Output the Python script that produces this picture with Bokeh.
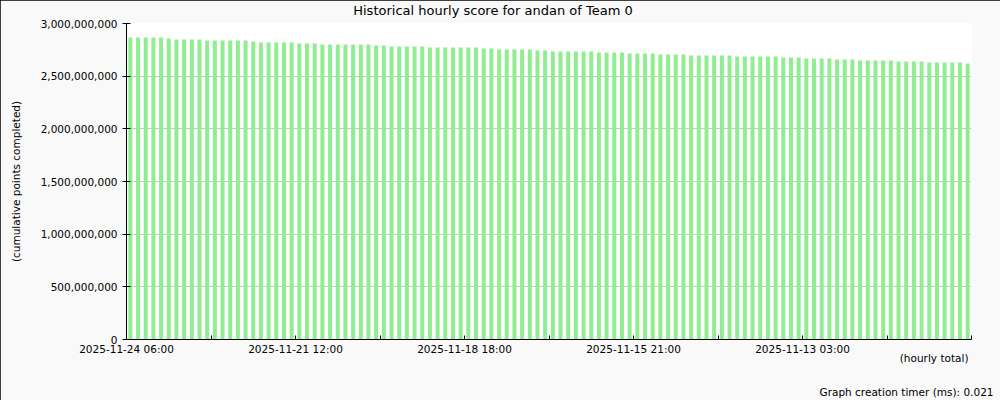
import math
from bokeh.plotting import figure
from bokeh.models import ColumnDataSource, FixedTicker, NumeralTickFormatter, Label, Range1d
from bokeh.embed import file_html
from bokeh.resources import INLINE

# ---- data ----
title_text = "Historical hourly score for andan of Team 0"
y_label_text = "(cumulative points completed)"
x_label_text = "(hourly total)"
footer_text = "Graph creation timer (ms): 0.021"

tick_labels = ["2025-11-24 06:00", "2025-11-21 12:00", "2025-11-18 18:00",
               "2025-11-15 21:00", "2025-11-13 03:00"]

scores = [
    2867000000, 2867000000, 2867000000, 2867000000, 2867000000,
    2858000000,
    2848000000, 2848000000, 2848000000, 2848000000,
    2839000000, 2839000000, 2839000000, 2839000000, 2839000000, 2839000000,
    2829000000,
    2820000000, 2820000000, 2820000000, 2820000000, 2820000000,
    2810000000, 2810000000, 2810000000,
    2801000000, 2801000000, 2801000000, 2801000000, 2801000000, 2801000000, 2801000000,
    2791000000, 2791000000,
    2782000000, 2782000000, 2782000000, 2782000000, 2782000000,
    2772000000, 2772000000, 2772000000, 2772000000, 2772000000, 2772000000, 2772000000,
    2763000000, 2763000000,
    2753000000, 2753000000, 2753000000, 2753000000, 2753000000,
    2744000000, 2744000000,
    2734000000, 2734000000, 2734000000, 2734000000, 2734000000, 2734000000,
    2725000000, 2725000000, 2725000000, 2725000000,
    2715000000, 2715000000, 2715000000, 2715000000,
    2706000000, 2706000000, 2706000000, 2706000000,
    2696000000, 2696000000, 2696000000, 2696000000, 2696000000, 2696000000,
    2687000000, 2687000000, 2687000000, 2687000000, 2687000000, 2687000000,
    2677000000, 2677000000, 2677000000,
    2668000000, 2668000000, 2668000000, 2668000000,
    2658000000, 2658000000, 2658000000,
    2649000000, 2649000000, 2649000000, 2649000000, 2649000000,
    2639000000, 2639000000, 2639000000, 2639000000,
    2630000000, 2630000000, 2630000000, 2630000000, 2630000000,
    2620000000,
]

y_max = 3000000000
y_step = 500000000

# ---- derived ----
n = len(scores)
xs = [i + 0.5 for i in range(n)]
src = ColumnDataSource(dict(x=xs, top=scores))

label_every = 22
minor_every = 11
tick_pos = list(range(0, n + 1, minor_every))
overrides = {}
for t in tick_pos:
    if t % label_every == 0 and t // label_every < len(tick_labels):
        overrides[t] = tick_labels[t // label_every]
    else:
        overrides[t] = ""

FONT = "DejaVu Sans"

p = figure(width=1000, height=400, title=None,
           x_range=Range1d(0, n), y_range=Range1d(0, y_max),
           output_backend="svg", toolbar_location=None,
           min_border_left=126, min_border_right=29,
           min_border_top=23, min_border_bottom=61,
           background_fill_color="white", border_fill_color="#f9f9f9",
           outline_line_color=None)
p.styles = {"outline": "1px solid black", "outline-offset": "-1px"}

p.vbar(x="x", top="top", bottom=0, width=0.52, source=src,
       fill_color="#90ee90", line_color=None)

# x axis
xa = p.xaxis[0]
xa.ticker = FixedTicker(ticks=tick_pos)
xa.major_label_overrides = overrides
xa.major_tick_in = 4
xa.major_tick_out = 0
xa.minor_tick_line_color = None
xa.major_label_standoff = 3
xa.axis_line_color = "black"
xa.major_tick_line_color = "black"
xa.major_label_text_font = FONT
xa.major_label_text_font_size = "10.5px"
xa.major_label_text_color = "black"

# y axis
ya = p.yaxis[0]
ya.ticker = FixedTicker(ticks=list(range(0, y_max + 1, y_step)))
ya.formatter = NumeralTickFormatter(format="0,0")
ya.major_tick_in = 4
ya.major_tick_out = 4
ya.minor_tick_line_color = None
ya.major_label_standoff = 5
ya.axis_line_color = "black"
ya.major_tick_line_color = "black"
ya.major_label_text_font = FONT
ya.major_label_text_font_size = "10.5px"
ya.major_label_text_color = "black"
ya.axis_label = y_label_text
ya.axis_label_standoff = 16
ya.axis_label_text_font = FONT
ya.axis_label_text_font_size = "10.5px"
ya.axis_label_text_font_style = "normal"
ya.axis_label_text_color = "black"

p.xgrid.visible = False
p.ygrid.grid_line_color = "#c8c8c8"

# title in the "above" side panel (screen units relative to that panel)
p.add_layout(Label(x=366.5, y=13, x_units="screen", y_units="screen",
                   text=title_text, text_align="center", text_baseline="middle",
                   text_font=FONT, text_font_size="13px", text_color="black"), "above")
# bottom texts in the "below" side panel
p.add_layout(Label(x=842, y=12, x_units="screen", y_units="screen",
                   text=x_label_text, text_align="right", text_baseline="middle",
                   text_font=FONT, text_font_size="10.5px", text_color="black"), "below")
p.add_layout(Label(x=867, y=-10, x_units="screen", y_units="screen",
                   text=footer_text, text_align="right", text_baseline="middle",
                   text_font=FONT, text_font_size="10.5px", text_color="black"), "below")

open("out.html", "w").write(file_html(p, INLINE))
